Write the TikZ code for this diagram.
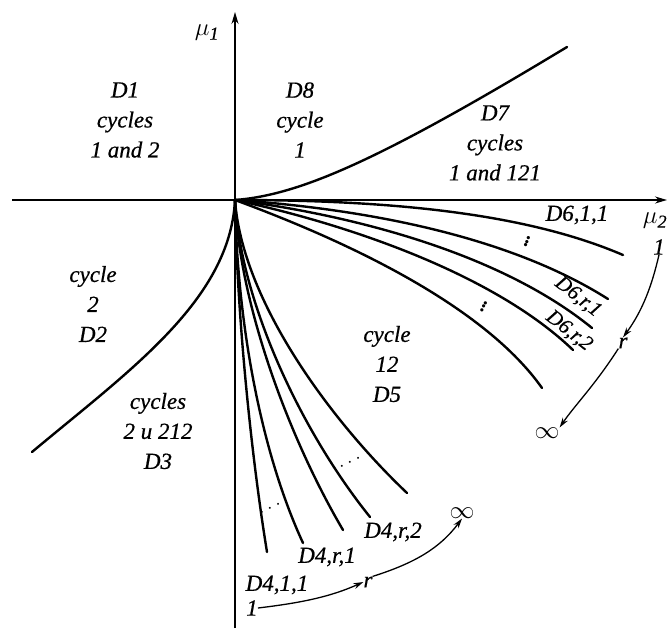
\documentclass[tikz,border=0pt]{standalone}
\usepackage{fontspec}
\setmainfont{Liberation Serif}[ItalicFeatures={FakeBold=0.6}]
\usetikzlibrary{arrows.meta}
\begin{document}
\begin{tikzpicture}[x=1pt,y=-1pt,
  axis/.style={line width=1.5pt,-{Stealth[length=12pt,width=7pt]}},
  curve/.style={line width=2.4pt,line cap=round},
  sarrow/.style={line width=1.3pt,-{Stealth[length=10pt,width=6pt]}},
  lbl/.style={font=\itshape\fontsize{23}{30}\selectfont,align=center,inner sep=0pt},
  inf/.style={font=\fontsize{32}{32}\selectfont,inner sep=0pt},
  dotsl/.style={font=\bfseries\fontsize{20}{20}\selectfont,inner sep=0pt}]
\useasboundingbox (0,0) rectangle (668,628);
\coordinate (O) at (235,200);
% axes
\coordinate (xl) at (12,200);
\coordinate (xr) at (667,200);
\coordinate (yb) at (235,628);
\coordinate (yt) at (235,12);
\draw[axis] (xl) -- (xr);
\draw[axis] (yb) -- (yt);
\node[lbl,font=\itshape\fontsize{26}{30}\selectfont] (mu1) at (207,33) {$\mu_{\mathit 1}$};
\node[lbl,font=\itshape\fontsize{26}{30}\selectfont] (mu2) at (655,221) {$\mu_{\mathit 2}$};
% boundary curves
\draw[curve] (O) .. controls (300,195) and (380,160) .. (567,47);
\draw[curve] (O) .. controls (230,300) and (130,370) .. (32,452);
% D6 family
\draw[curve] (O) .. controls (400,200) and (530,215) .. (623,255);
\draw[curve] (O) .. controls (379,210) and (515,240) .. (608,299);
\draw[curve] (O) .. controls (365,217) and (505,257) .. (592,328);
\draw[curve] (O) .. controls (351,225) and (495,275) .. (573,350);
\draw[curve] (O) .. controls (330,235) and (480,300) .. (542,388);
% D4 family
\draw[curve] (O) .. controls (237,320) and (252,460) .. (267,552);
\draw[curve] (O) .. controls (237,320) and (260,450) .. (303,543);
\draw[curve] (O) .. controls (239,305) and (290,440) .. (343,530);
\draw[curve] (O) .. controls (240,300) and (300,430) .. (370,517);
\draw[curve] (O) .. controls (242,300) and (330,420) .. (407,493);
% region labels
\node[lbl] (d1) at (125,120) {D1\\cycles\\1 and 2};
\node[lbl] (d8) at (300,120) {D8\\cycle\\1};
\node[lbl] (d7) at (495,143) {D7\\cycles\\1 and 121};
\node[lbl] (d2) at (93,304) {cycle\\2\\D2};
\node[lbl] (d3) at (158,431) {cycles\\2 u 212\\D3};
\node[lbl] (d5) at (387,364) {cycle\\12\\D5};
% D6 labels
\node[lbl] (d611) at (577,215) {D6,1,1};
\node[lbl,rotate=-38,font=\itshape\fontsize{21}{30}\selectfont] (d6r1) at (578,297) {D6,r,1};
\node[lbl,rotate=-38,font=\itshape\fontsize{21}{30}\selectfont] (d6r2) at (569,331) {D6,r,2};
\node[dotsl,rotate=-20] (v1) at (528,239) {$\vdots$};
\node[dotsl,rotate=-25] (v2) at (485,304) {$\vdots$};
% D4 labels
\node[lbl] (d411) at (277,585) {D4,1,1};
\node[lbl] (d4r1) at (327,557) {D4,r,1};
\node[lbl] (d4r2) at (393,532) {D4,r,2};
\node[dotsl,rotate=27] (h1) at (270,508) {$\ldots$};
\node[dotsl,rotate=27] (h2) at (350,462) {$\ldots$};
% bottom parameter arrows
\node[lbl] (b1) at (252,608) {1};
\node[lbl] (br) at (368,582) {r};
\node[inf] (binf) at (462,513) {$\infty$};
\draw[sarrow] (b1.east) .. controls (300,603) and (330,597) .. (br.west);
\draw[sarrow] (br.north east) .. controls (415,563) and (440,548) .. (binf.south);
% right parameter arrows
\node[lbl] (r1) at (659,247) {1};
\node[lbl] (rr) at (623,343) {r};
\node[inf] (rinf) at (547,433) {$\infty$};
\draw[sarrow] (r1.south) .. controls (652,285) and (643,310) .. (rr.north);
\draw[sarrow] (rr.south west) .. controls (595,385) and (575,405) .. (rinf.north east);
\end{tikzpicture}
\end{document}
